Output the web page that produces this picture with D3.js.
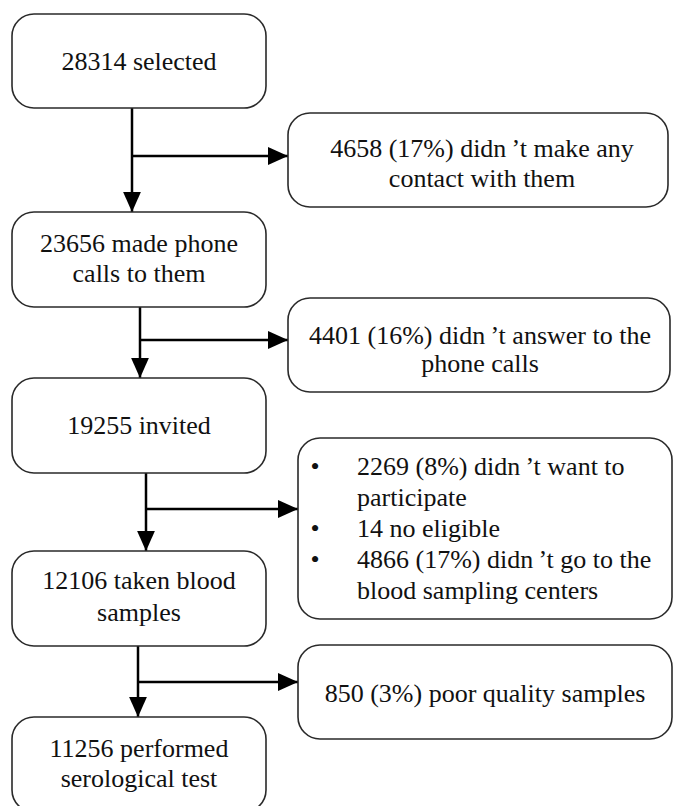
<!DOCTYPE html>
<html>
<head>
<meta charset="utf-8">
<script src="https://cdn.jsdelivr.net/npm/d3@7"></script>
<style>
html,body{margin:0;padding:0;background:#fff;}
svg{display:block;}
</style>
</head>
<body>
<svg id="chart" width="674" height="806"></svg>
<script>
// ---- content ----
const mainSteps = [
  ["28314 selected"],
  ["23656 made phone", "calls to them"],
  ["19255 invited"],
  ["12106 taken blood", "samples"],
  ["11256 performed", "serological test"]
];
const exclusions = [
  { lines: ["4658 (17%) didn\u2009\u2019t make any", "contact with them"], bullets: null },
  { lines: ["4401 (16%) didn\u2009\u2019t answer to the", "phone calls"], bullets: null },
  { lines: ["2269 (8%) didn\u2009\u2019t want to", "participate", "14 no eligible", "4866 (17%) didn\u2009\u2019t go to the", "blood sampling centers"], bullets: [0, 2, 3] },
  { lines: ["850 (3%) poor quality samples"], bullets: null }
];

// ---- layout ----
const leftLayout = [
  { x: 12, y: 14, w: 254, h: 94, lh: 30, dy: 0 },
  { x: 12, y: 212, w: 254, h: 95, lh: 30, dy: -1 },
  { x: 12, y: 378, w: 254, h: 95, lh: 30, dy: 0 },
  { x: 12, y: 551, w: 254, h: 95, lh: 32, dy: -2 },
  { x: 12, y: 717, w: 254, h: 95, lh: 30, dy: -1 }
];
const rightLayout = [
  { x: 288, y: 113, w: 380, h: 94, lh: 30, dy: 3, dx: 4 },
  { x: 288, y: 298, w: 382, h: 94, lh: 28, dy: 4, dx: 1 },
  { x: 298, y: 438, w: 374, h: 181, lh: 31, dy: 0, dx: 0 },
  { x: 298, y: 645, w: 374, h: 94, lh: 30, dy: 1, dx: 0 }
];
const connX = [132, 140, 146, 138];
const branchY = [156, 340, 509, 682];

const FS = 26;
const FONT = "Liberation Serif";

const svg = d3.select("#chart");

const defs = svg.append("defs");
defs.append("marker")
  .attr("id", "arrow")
  .attr("markerUnits", "userSpaceOnUse")
  .attr("markerWidth", 20).attr("markerHeight", 18)
  .attr("viewBox", "0 0 18 16")
  .attr("refX", 18).attr("refY", 8)
  .attr("orient", "auto")
  .append("path")
  .attr("d", "M0,0 L18,8 L0,16 Z")
  .attr("fill", "#000");

// connectors
const conn = svg.append("g").attr("stroke", "#000").attr("stroke-width", 2.5).attr("fill", "none");
connX.forEach((cx, i) => {
  const a = leftLayout[i], b = leftLayout[i + 1], r = rightLayout[i];
  conn.append("line")
    .attr("x1", cx).attr("y1", a.y + a.h)
    .attr("x2", cx).attr("y2", b.y)
    .attr("marker-end", "url(#arrow)");
  conn.append("line")
    .attr("x1", cx).attr("y1", branchY[i])
    .attr("x2", r.x).attr("y2", branchY[i])
    .attr("marker-end", "url(#arrow)");
});

function drawBox(g, L) {
  g.append("rect")
    .attr("x", L.x).attr("y", L.y).attr("width", L.w).attr("height", L.h)
    .attr("rx", 22).attr("ry", 22)
    .attr("fill", "#fff").attr("stroke", "#2a2a2a").attr("stroke-width", 1.6);
}

function addText(g, x, y, t, anchor) {
  g.append("text")
    .attr("x", x).attr("y", y)
    .attr("text-anchor", anchor)
    .attr("font-size", FS)
    .style("font-family", "'" + FONT + "', monospace")
    .attr("fill", "#111")
    .text(t);
}

// left boxes
mainSteps.forEach((lines, i) => {
  const L = leftLayout[i];
  const g = svg.append("g");
  drawBox(g, L);
  const cy = L.y + L.h / 2 + FS * 0.34 + L.dy;
  const n = lines.length;
  lines.forEach((t, j) => {
    addText(g, L.x + L.w / 2, cy + (j - (n - 1) / 2) * L.lh, t, "middle");
  });
});

// right boxes
exclusions.forEach((ex, i) => {
  const L = rightLayout[i];
  const g = svg.append("g");
  drawBox(g, L);
  const cy = L.y + L.h / 2 + FS * 0.34 + L.dy;
  const n = ex.lines.length;
  ex.lines.forEach((t, j) => {
    const y = cy + (j - (n - 1) / 2) * L.lh;
    if (ex.bullets) {
      if (ex.bullets.includes(j)) addText(g, L.x + 17, y, "\u2022", "middle");
      addText(g, L.x + 59, y, t, "start");
    } else {
      addText(g, L.x + L.w / 2 + L.dx, y, t, "middle");
    }
  });
});
</script>
</body>
</html>
